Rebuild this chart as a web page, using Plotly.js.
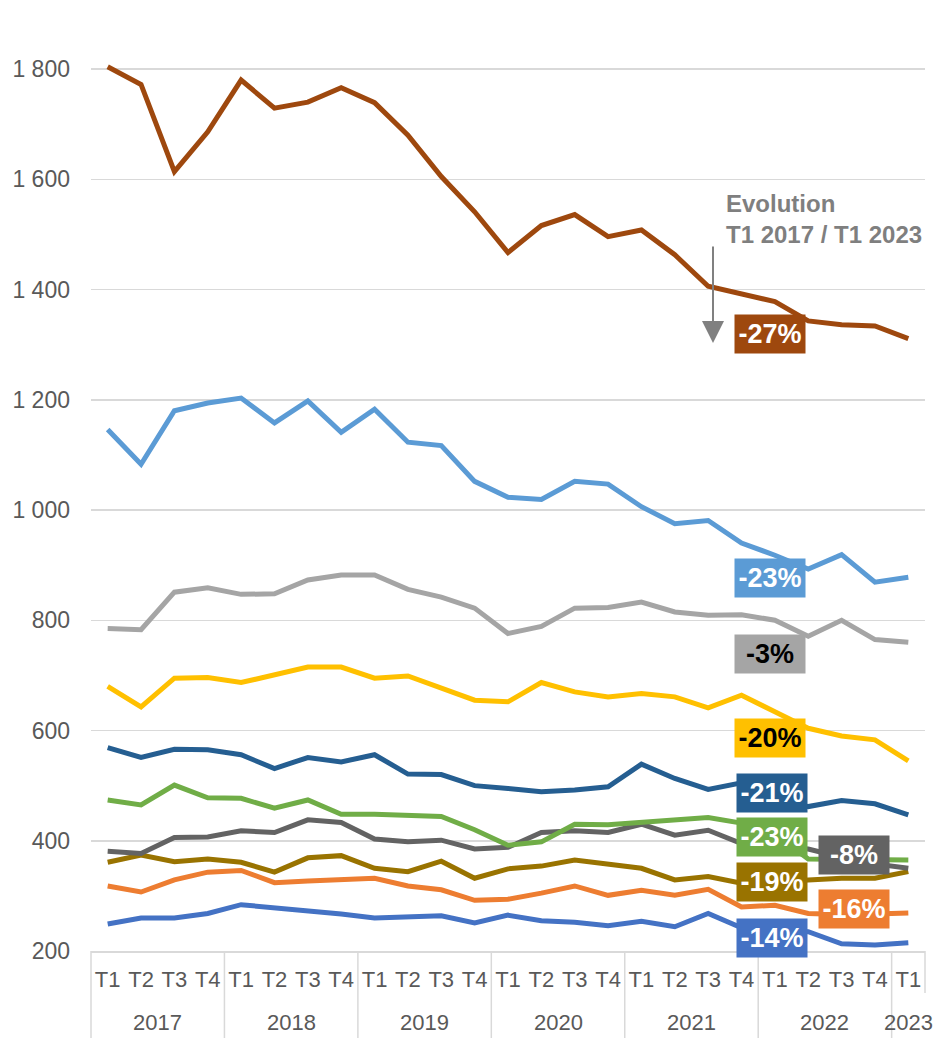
<!DOCTYPE html>
<html>
<head>
<meta charset="utf-8">
<script src="https://cdn.plot.ly/plotly-3.0.1.min.js"></script>
<style>html,body{margin:0;padding:0;background:#fff;}#chart{width:935px;height:1041px;}</style>
</head>
<body>
<div id="chart"></div>
<script>
const years = ['2017','2017','2017','2017','2018','2018','2018','2018','2019','2019','2019','2019','2020','2020','2020','2020','2021','2021','2021','2021','2022','2022','2022','2022','2023'];
const quarters = ['T1','T2','T3','T4','T1','T2','T3','T4','T1','T2','T3','T4','T1','T2','T3','T4','T1','T2','T3','T4','T1','T2','T3','T4','T1'];

const brown     = [1804,1772,1614,1686,1780,1729,1740,1766,1739,1680,1605,1541,1467,1516,1536,1496,1508,1463,1406,1393,1378,1343,1336,1334,1311];
const lightBlue = [1146,1083,1180,1194,1203,1158,1198,1141,1183,1123,1117,1052,1023,1019,1052,1047,1006,975,981,940,918,893,919,869,878];
const lightGray = [785,783,851,859,847,848,873,882,882,856,842,822,776,789,822,823,833,815,809,810,800,771,800,765,760];
const yellow    = [680,643,695,696,687,701,715,715,695,699,677,655,652,687,670,661,667,661,641,664,634,604,590,583,545];
const darkBlue  = [569,551,566,565,556,531,551,543,556,521,520,500,495,489,492,498,539,513,493,505,478,462,473,467,447];
const green     = [474,465,501,478,477,459,474,448,448,445,444,420,392,398,430,429,433,439,442,432,412,367,367,366,365];
const darkGray  = [381,377,406,407,418,415,438,433,403,398,401,385,388,415,418,415,430,410,419,395,388,385,370,358,350];
const olive     = [361,374,362,367,361,343,369,373,350,344,363,332,349,354,365,358,350,329,335,323,325,329,332,332,344];
const orange    = [318,307,329,343,346,324,327,329,332,318,311,292,294,305,318,301,310,301,312,280,283,268,266,267,269];
const blue      = [249,260,260,268,284,279,273,267,260,263,264,251,265,255,252,246,254,244,268,242,238,235,213,211,215];

const seriesList = [
  {y: blue, color: '#4472C4'},
  {y: orange, color: '#ED7D31'},
  {y: olive, color: '#997300'},
  {y: darkGray, color: '#636363'},
  {y: green, color: '#70AD47'},
  {y: darkBlue, color: '#255E91'},
  {y: yellow, color: '#FFC000'},
  {y: lightGray, color: '#A5A5A5'},
  {y: lightBlue, color: '#5B9BD5'},
  {y: brown, color: '#9E480E'}
];

const labelTexts  = ['-27%','-23%','-3%','-20%','-21%','-23%','-8%','-19%','-16%','-14%'];
const labelColors = ['#9E480E','#5B9BD5','#A5A5A5','#FFC000','#255E91','#70AD47','#636363','#997300','#ED7D31','#4472C4'];
const labelFont   = ['#FFFFFF','#FFFFFF','#000000','#000000','#FFFFFF','#FFFFFF','#FFFFFF','#FFFFFF','#FFFFFF','#FFFFFF'];
const labelY      = [1319, 876, 738, 586, 486, 406, 374, 325, 276, 223];
const labelCol    = [0,0,0,0,1,1,2,1,2,1];

const yTickVals = [200,400,600,800,1000,1200,1400,1600,1800];
const yTickText = ['200','400','600','800','1 000','1 200','1 400','1 600','1 800'];

const L = 91, R = 10, T = 58, B = 90, W = 935, H = 1041;
const pw = W - L - R, ph = H - T - B;
const px2paperX = p => (p - L) / pw;
const px2paperY = p => (H - B - p) / ph;
const colX = [770, 772, 854];
const n = quarters.length;
const idx = quarters.map((q, i) => i);
const idxToPaper = v => (v + 0.5) / n;

const traces = seriesList.map(s => ({
  type: 'scatter', mode: 'lines',
  x: idx, y: s.y,
  line: {color: s.color, width: 5},
  hoverinfo: 'skip', showlegend: false
}));

const annotations = labelTexts.map((t, i) => ({
  xref: 'paper', yref: 'y',
  x: px2paperX(colX[labelCol[i]]), y: labelY[i],
  text: '<b>' + t + '</b>', showarrow: false,
  bgcolor: labelColors[i], width: 70, height: 38, borderpad: 0,
  font: {family: 'Liberation Sans, Arial, sans-serif', size: 27, color: labelFont[i]},
  xanchor: 'center', yanchor: 'middle', align: 'center', valign: 'middle'
}));

annotations.push({
  xref: 'paper', yref: 'paper', x: px2paperX(724), y: px2paperY(188),
  xanchor: 'left', yanchor: 'top', align: 'left', showarrow: false,
  text: '<b>Evolution<br>T1 2017 / T1 2023</b>',
  font: {family: 'Liberation Sans, Arial, sans-serif', size: 24, color: '#7F7F7F'}
});
annotations.push({
  xref: 'paper', yref: 'paper', x: px2paperX(713), y: px2paperY(343),
  text: '', showarrow: true, ax: 0, ay: -98,
  arrowhead: 2, arrowsize: 2.2, arrowwidth: 2, arrowcolor: '#808080'
});

// year group labels and dividers
const shapes = [];
const groupYears = [...new Set(years)];
groupYears.forEach(yr => {
  const members = idx.filter(i => years[i] === yr);
  const first = members[0], last = members[members.length - 1];
  annotations.push({
    xref: 'paper', yref: 'paper', x: idxToPaper((first + last) / 2), y: px2paperY(1023),
    xanchor: 'center', yanchor: 'middle', showarrow: false, text: yr,
    font: {family: 'Liberation Sans, Arial, sans-serif', size: 22, color: '#595959'}
  });
  shapes.push({
    type: 'line', xref: 'paper', yref: 'paper',
    x0: idxToPaper(first - 0.5), x1: idxToPaper(first - 0.5),
    y0: 0, y1: px2paperY(1038),
    line: {color: '#D9D9D9', width: 1.5}
  });
});
shapes.push({
  type: 'line', xref: 'paper', yref: 'paper',
  x0: idxToPaper(n - 0.5), x1: idxToPaper(n - 0.5),
  y0: 0, y1: px2paperY(993),
  line: {color: '#D9D9D9', width: 1.5}
});

const layout = {
  width: W, height: H,
  margin: {l: L, r: R, t: T, b: B},
  paper_bgcolor: '#fff', plot_bgcolor: '#fff',
  font: {family: 'Liberation Sans, Arial, sans-serif', color: '#595959'},
  showlegend: false,
  xaxis: {
    range: [-0.5, n - 0.5],
    tickvals: idx, ticktext: quarters,
    showgrid: false, zeroline: false, showline: true, linecolor: '#D9D9D9', linewidth: 1.5,
    tickfont: {family: 'Liberation Sans, Arial, sans-serif', size: 22, color: '#595959'},
    tickangle: 0, ticks: '', ticklabelstandoff: 8, fixedrange: true
  },
  yaxis: {
    range: [200, 1820],
    tickvals: yTickVals, ticktext: yTickText,
    showgrid: true, gridcolor: '#D9D9D9', gridwidth: 1.5,
    zeroline: false, showline: false, ticks: '',
    ticklabelstandoff: 20,
    tickfont: {family: 'Liberation Sans, Arial, sans-serif', size: 23, color: '#595959'},
    fixedrange: true
  },
  shapes: shapes,
  annotations: annotations
};

Plotly.newPlot('chart', traces, layout, {displayModeBar: false, staticPlot: true});
</script>
</body>
</html>
